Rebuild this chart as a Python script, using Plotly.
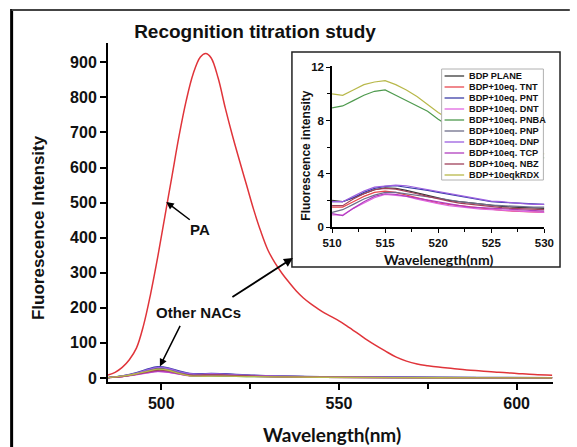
import plotly.graph_objects as go

# ---------------- data ----------------
pa_wl = [485, 487, 489, 491, 493, 495, 497, 499, 501, 503, 505, 507, 509, 511, 512.5, 514, 516,
         518, 520, 522, 524, 526, 528, 530, 532, 534, 536, 538, 540, 542, 544, 546, 548, 550,
         552, 554, 556, 558, 560, 563, 566, 569, 572, 575, 578, 582, 586, 590, 595, 600, 605, 610]
pa_int = [8, 16, 30, 52, 85, 150, 240, 345, 460, 575, 690, 790, 868, 915, 925, 913, 855,
          770, 692, 620, 550, 480, 418, 365, 328, 298, 272, 248, 228, 212, 198, 185, 174, 163,
          150, 136, 122, 108, 95, 77, 60, 48, 40, 35, 31, 27, 23, 20, 16, 13, 10, 8]

series_names = ["BDP PLANE", "BDP+10eq. TNT", "BDP+10eq. PNT", "BDP+10eq. DNT", "BDP+10eq. PNBA",
                "BDP+10eq. PNP", "BDP+10eq. DNP", "BDP+10eq. TCP", "BDP+10eq. NBZ", "BDP+10eqkRDX"]
series_colors = ["#3a3a3a", "#e8474f", "#3b3fa8", "#e066e0", "#4e9a4e",
                 "#6e6e8a", "#9b5fe0", "#b03fbf", "#a0405a", "#b8b84a"]

# other NACs in the main panel
nac_wl = [485, 489, 493, 496, 499, 502, 505, 508, 511, 514, 518, 524, 532, 545, 565, 590, 610]
nac_main = [
    [1, 5, 13, 21, 27, 24, 16, 10, 10, 11, 10, 7, 5, 3, 2, 1, 1],
    [1, 4, 10, 16, 20, 18, 12, 7, 7, 8, 7, 5, 4, 2, 1, 1, 0.5],
    [1, 6, 15, 25, 32, 29, 20, 13, 12, 13, 12, 9, 6, 4, 2, 1.5, 1],
    [1, 4, 9, 14, 18, 16, 11, 6, 6, 7, 6, 5, 3, 2, 1, 0.5, 0.5],
    [1, 5, 11, 19, 24, 21, 13, 7, 6, 6, 5, 4, 3, 2, 1, 0.5, 0.5],
    [1, 5, 12, 20, 26, 23, 15, 9, 9, 10, 9, 7, 5, 3, 2, 1, 1],
    [1, 6, 14, 23, 30, 27, 18, 12, 11, 12, 11, 8, 6, 3, 2, 1, 1],
    [1, 4, 10, 15, 19, 17, 11, 7, 7, 8, 7, 5, 4, 2, 1, 0.5, 0.5],
    [1, 4, 11, 17, 22, 20, 13, 8, 8, 9, 8, 6, 4, 2, 1, 1, 0.5],
    [1, 5, 12, 19, 25, 22, 13, 6, 5, 5, 5, 4, 3, 2, 1, 0.5, 0.5],
]

# inset (510-530 nm)
inset_wl = list(range(510, 531))
inset_vals = [
    [2.0, 1.9, 2.2, 2.5, 2.8, 2.95, 2.9, 2.75, 2.55, 2.35, 2.15, 2.0, 1.9, 1.8, 1.7, 1.6, 1.55, 1.5, 1.45, 1.4, 1.4],
    [1.5, 1.5, 1.9, 2.3, 2.6, 2.7, 2.6, 2.4, 2.2, 2.0, 1.8, 1.7, 1.6, 1.5, 1.4, 1.3, 1.25, 1.2, 1.15, 1.1, 1.1],
    [1.9, 1.9, 2.2, 2.6, 2.9, 3.05, 3.1, 3.0, 2.9, 2.75, 2.6, 2.45, 2.3, 2.15, 2.0, 1.9, 1.85, 1.8, 1.75, 1.7, 1.7],
    [0.9, 0.9, 1.4, 1.8, 2.2, 2.45, 2.4, 2.3, 2.1, 1.9, 1.75, 1.6, 1.5, 1.4, 1.35, 1.3, 1.25, 1.2, 1.15, 1.1, 1.1],
    [8.95, 9.1, 9.5, 9.9, 10.2, 10.3, 9.9, 9.5, 9.1, 8.7, 8.1, 7.6, 7.2, 6.8, 6.5, 6.2, 5.9, 5.7, 5.5, 5.3, 5.2],
    [1.1, 1.3, 1.7, 2.1, 2.4, 2.6, 2.6, 2.5, 2.4, 2.3, 2.2, 2.05, 1.9, 1.8, 1.7, 1.65, 1.6, 1.55, 1.5, 1.5, 1.5],
    [1.9, 1.9, 2.3, 2.7, 3.0, 3.1, 3.15, 3.1, 2.95, 2.8, 2.65, 2.5, 2.35, 2.2, 2.05, 1.95, 1.9, 1.8, 1.75, 1.7, 1.7],
    [1.0, 0.85, 1.4, 1.9, 2.3, 2.5, 2.45, 2.3, 2.15, 2.0, 1.85, 1.7, 1.6, 1.5, 1.45, 1.4, 1.35, 1.3, 1.25, 1.2, 1.2],
    [1.6, 1.6, 2.1, 2.5, 2.8, 2.9, 2.85, 2.7, 2.5, 2.3, 2.1, 1.95, 1.8, 1.7, 1.6, 1.5, 1.45, 1.4, 1.35, 1.3, 1.3],
    [10.0, 9.9, 10.3, 10.7, 10.9, 11.0, 10.7, 10.3, 9.8, 9.2, 8.6, 8.1, 7.6, 7.2, 6.8, 6.5, 6.2, 6.0, 5.8, 5.6, 5.5],
]

main_xticks = [500, 550, 600]
main_yticks = [0, 100, 200, 300, 400, 500, 600, 700, 800, 900]
inset_xticks = [510, 515, 520, 525, 530]
inset_yticks = [0, 4, 8, 12]

# ---------------- layout helpers ----------------
W, H = 577, 447
ML, MR, MT, MB = 108, 6, 43, 65
PW, PH = W - ML - MR, H - MT - MB


def px(x):
    return (x - ML) / PW


def py(y):
    return (H - MB - y) / PH


FONT = "Liberation Sans, Arial, sans-serif"

fig = go.Figure()

# main panel: other NACs then PA
for name, col, vals in zip(series_names, series_colors, nac_main):
    fig.add_trace(go.Scatter(x=nac_wl, y=vals, mode="lines", line=dict(color=col, width=1.3, shape="spline"),
                             showlegend=False, xaxis="x", yaxis="y"))
fig.add_trace(go.Scatter(x=pa_wl, y=pa_int, mode="lines", line=dict(color="#e0343a", width=1.5, shape="spline"),
                         showlegend=False, xaxis="x", yaxis="y"))

# inset traces
for name, col, vals in zip(series_names, series_colors, inset_vals):
    fig.add_trace(go.Scatter(x=inset_wl, y=vals, mode="lines", line=dict(color=col, width=1.2),
                             name=name, showlegend=False, xaxis="x3", yaxis="y3"))

# dummy subplot (inset white box) - empty trace
fig.add_trace(go.Scatter(x=[], y=[], xaxis="x2", yaxis="y2", showlegend=False))

tickfont_main = dict(family=FONT, size=16, color="#111", weight="bold")
tickfont_in = dict(family=FONT, size=11.5, color="#111", weight="bold")

fig.update_layout(
    width=W, height=H,
    margin=dict(l=ML, r=MR, t=MT, b=MB),
    paper_bgcolor="white", plot_bgcolor="white",
    showlegend=False,
    title=dict(text="Recognition titration study", x=255 / W, xref="container", xanchor="center",
               y=1 - 31 / H, yanchor="middle", yref="container",
               font=dict(family=FONT, size=19, color="#111", weight="bold")),
    xaxis=dict(domain=[0, (563 - ML) / PW], range=[485, 610.3], tickvals=main_xticks,
               showline=True, linecolor="black", linewidth=2, ticks="outside", ticklen=6, tickwidth=2,
               tickcolor="black", showgrid=False, zeroline=False, tickfont=tickfont_main, anchor="y",
               minor=dict(dtick=25, tick0=500, ticks="outside", ticklen=5, tickwidth=2, tickcolor="black")),
    yaxis=dict(domain=[0, 1], range=[-11.5, 955], tickvals=main_yticks,
               showline=True, linecolor="black", linewidth=2, ticks="outside", ticklen=6, tickwidth=2,
               tickcolor="black", showgrid=False, zeroline=False, tickfont=tickfont_main, anchor="x"),
    xaxis2=dict(domain=[px(296), px(570)], visible=False, anchor="y2", range=[0, 1]),
    yaxis2=dict(domain=[py(267), py(52)], visible=False, anchor="x2", range=[0, 1]),
    xaxis3=dict(domain=[px(337), px(554)], range=[510, 530], tickvals=inset_xticks, anchor="y3",
                showline=True, linecolor="black", linewidth=1.5, ticks="outside", ticklen=4, tickwidth=1.2,
                tickcolor="black", showgrid=False, zeroline=False, tickfont=tickfont_in,
                minor=dict(dtick=2.5, tick0=510, ticks="outside", ticklen=3, tickwidth=1, tickcolor="black")),
    yaxis3=dict(domain=[py(227), py(66)], range=[0, 12.1], tickvals=inset_yticks, anchor="x3",
                showline=True, linecolor="black", linewidth=1.5, ticks="outside", ticklen=4, tickwidth=1.2,
                tickcolor="black", showgrid=False, zeroline=False, tickfont=tickfont_in,
                minor=dict(dtick=2, tick0=0, ticks="outside", ticklen=3, tickwidth=1, tickcolor="black")),
)

shapes = []
annotations = []

# outer figure frame (left thick, top thin)
shapes.append(dict(type="line", xref="paper", yref="paper", x0=px(9.5), x1=px(9.5), y0=py(9), y1=py(450),
                   line=dict(color="black", width=3), layer="above"))
shapes.append(dict(type="line", xref="paper", yref="paper", x0=px(9.5), x1=px(580), y0=py(10), y1=py(10),
                   line=dict(color="#444", width=2), layer="above"))
# inset border
shapes.append(dict(type="rect", xref="paper", yref="paper", x0=px(296), x1=px(570), y0=py(267), y1=py(52),
                   line=dict(color="#222", width=1.5), fillcolor="rgba(0,0,0,0)", layer="above"))

# inset legend (drawn manually)
lg_l, lg_r, lg_t, lg_b = 449, 553, 69, 180
shapes.append(dict(type="rect", xref="paper", yref="paper", x0=px(lg_l), x1=px(lg_r), y0=py(lg_b), y1=py(lg_t),
                   line=dict(color="#b0b0b0", width=1), fillcolor="white", layer="above"))
row0, drow = 76, 11.0
for i, (name, col) in enumerate(zip(series_names, series_colors)):
    yy = row0 + i * drow
    shapes.append(dict(type="line", xref="paper", yref="paper", x0=px(452), x1=px(472), y0=py(yy), y1=py(yy),
                       line=dict(color=col, width=1.3), layer="above"))
    annotations.append(dict(text=name, xref="paper", yref="paper", x=px(475), y=py(yy), xanchor="left",
                            yanchor="middle", showarrow=False,
                            font=dict(family=FONT, size=9.2, color="#111", weight="bold")))

# axis titles
annotations.append(dict(text="Fluorescence Intensity", xref="paper", yref="paper", x=px(36.5), y=py(228),
                        textangle=-90, showarrow=False, xanchor="center", yanchor="middle",
                        font=dict(family=FONT, size=17, color="#111", weight="bold")))
annotations.append(dict(text="Wavelength(nm)", xref="paper", yref="paper", x=px(337), y=py(434),
                        showarrow=False, xanchor="center", yanchor="middle",
                        font=dict(family="Lato, " + FONT, size=19, color="#111", weight="bold")))
annotations.append(dict(text="Fluorescence intensity", xref="paper", yref="paper", x=px(310), y=py(156),
                        textangle=-90, showarrow=False, xanchor="center", yanchor="middle",
                        font=dict(family=FONT, size=12, color="#111", weight="bold")))
annotations.append(dict(text="Wavelenegth(nm)", xref="paper", yref="paper", x=px(446), y=py(259),
                        showarrow=False, xanchor="center", yanchor="middle",
                        font=dict(family="Lato, " + FONT, size=14, color="#111", weight="bold")))

# callouts
annotations.append(dict(text="PA", xref="paper", yref="paper", x=px(202), y=py(229), showarrow=False,
                        xanchor="center", yanchor="middle",
                        font=dict(family=FONT, size=15, color="#111", weight="bold")))
annotations.append(dict(text="", x=501.4, y=502, xref="x", yref="y", ax=25, ay=19, showarrow=True,
                        arrowhead=2, arrowsize=1, arrowwidth=1.5, arrowcolor="black"))
annotations.append(dict(text="Other NACs", xref="paper", yref="paper", x=px(201), y=py(312), showarrow=False,
                        xanchor="center", yanchor="middle",
                        font=dict(family=FONT, size=15, color="#111", weight="bold")))
annotations.append(dict(text="", x=499.6, y=33, xref="x", yref="y", ax=21, ay=-42, showarrow=True,
                        arrowhead=2, arrowsize=1, arrowwidth=1.5, arrowcolor="black"))
annotations.append(dict(text="", x=px(297), y=py(258), xref="paper", yref="paper", ax=-62, ay=40,
                        showarrow=True, arrowhead=2, arrowsize=1, arrowwidth=1.8, arrowcolor="black"))

fig.update_layout(shapes=shapes, annotations=annotations)

fig.write_html("out.html", config={"displayModeBar": False},
               post_script="document.body.style.margin='0';")
